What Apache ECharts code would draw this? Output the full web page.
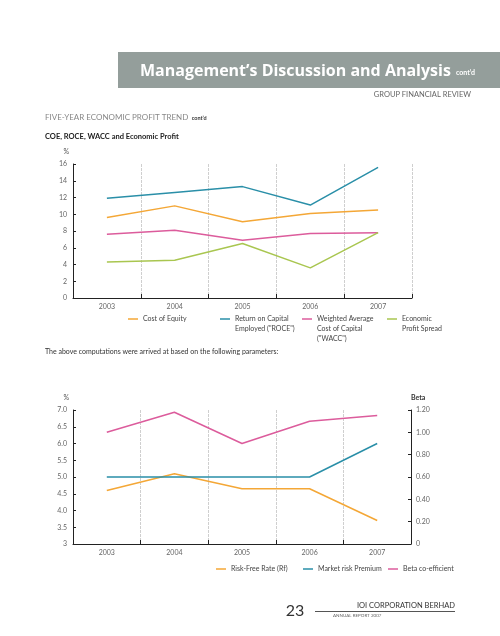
<!DOCTYPE html>
<html><head><meta charset="utf-8">
<script src="https://cdn.jsdelivr.net/npm/echarts@6/dist/echarts.min.js"></script>
<style>html,body{margin:0;padding:0;background:#fff}#c{width:500px;height:636px}</style>
</head><body><div id="c"></div>
<script>
// ---- data ----
const years = ['2003','2004','2005','2006','2007'];
const coe  = [9.6, 11.0, 9.1, 10.1, 10.5];
const roce = [11.9, 12.6, 13.3, 11.1, 15.6];
const wacc = [7.6, 8.1, 6.9, 7.7, 7.8];
const eps  = [4.3, 4.5, 6.5, 3.6, 7.8];
const riskFree = [4.6, 5.1, 4.65, 4.65, 3.7];
const marketRisk = [5.0, 5.0, 5.0, 5.0, 6.0];
const beta = [1.00, 1.18, 0.90, 1.10, 1.15];
const legend1 = ['Cost of Equity', 'Return on Capital\nEmployed ("ROCE")', 'Weighted Average\nCost of Capital\n("WACC")', 'Economic\nProfit Spread'];
const legend2 = ['Risk-Free Rate (Rf)', 'Market risk Premium', 'Beta co-efficient'];

// ---- style ----
const C_OR = '#f4a736', C_BL = '#2a8fa8', C_PK = '#dc5c9c', C_GR = '#a9c650';
const FONT = 'Lato, "Noto Sans", sans-serif';
const axisCol = '#222';
const lab = {fontSize: 7, color: '#666', fontFamily: FONT};

const chart = echarts.init(document.getElementById('c'), null, {renderer: 'canvas'});

function xAx(gi) {
  return {
    type: 'category', gridIndex: gi, data: years, boundaryGap: true,
    axisLine: {lineStyle: {color: axisCol, width: 1}},
    axisTick: {show: true, inside: true, length: 4, lineStyle: {color: axisCol}},
    axisLabel: Object.assign({margin: 5}, lab),
    splitLine: {show: true, lineStyle: {color: '#cfcfcf', width: 1, type: [3, 1]}}
  };
}
function yAx(gi, o) {
  return Object.assign({
    type: 'value', gridIndex: gi,
    axisLine: {show: true, lineStyle: {color: axisCol, width: 1}},
    axisTick: {show: true, inside: true, length: 3, lineStyle: {color: axisCol}},
    splitLine: {show: false},
    nameTextStyle: {fontSize: 7, color: '#555', fontFamily: FONT, align: 'right', padding: [0, 4, 0, 0]},
    nameGap: 9
  }, o);
}

function legendGraphic(labels, colors, xs, y) {
  const out = [];
  labels.forEach((t, i) => {
    out.push({type: 'line', shape: {x1: xs[i], y1: y, x2: xs[i] + 10, y2: y}, style: {stroke: colors[i], lineWidth: 1.5}});
    out.push({type: 'text', x: xs[i] + 15, y: y - 5, style: {text: t, fill: '#444', font: '7px ' + FONT, lineHeight: 10, verticalAlign: 'top'}});
  });
  return out;
}

const line = (name, data, color, xi, yi) => ({
  name, type: 'line', data, xAxisIndex: xi, yAxisIndex: yi, showSymbol: false, symbol: 'none',
  lineStyle: {color, width: 1.5}, itemStyle: {color}, animation: false
});

chart.setOption({
  animation: false,
  grid: [
    {left: 73, right: 88, top: 164, height: 134},
    {left: 73, right: 89, top: 410, height: 134}
  ],
  xAxis: [xAx(0), xAx(1)],
  yAxis: [
    yAx(0, {min: 0, max: 16, interval: 2, name: '%', axisLabel: Object.assign({margin: 6}, lab)}),
    yAx(1, {min: 3, max: 7, interval: 0.5, name: '%', axisLabel: Object.assign({margin: 6, formatter: v => v === 3 ? '3' : v.toFixed(1)}, lab)}),
    yAx(1, {min: 0, max: 1.2, interval: 0.2, position: 'right', name: 'Beta',
      nameTextStyle: {fontSize: 7, color: '#333', fontWeight: 'bold', fontFamily: FONT, align: 'left', padding: [0, 0, 0, 0]},
      axisLabel: Object.assign({margin: 5, formatter: v => v === 0 ? '0' : v.toFixed(2)}, lab)})
  ],
  series: [
    line(legend1[0], coe, C_OR, 0, 0),
    line(legend1[1], roce, C_BL, 0, 0),
    line(legend1[2], wacc, C_PK, 0, 0),
    line(legend1[3], eps, C_GR, 0, 0),
    line(legend2[0], riskFree, C_OR, 1, 1),
    line(legend2[1], marketRisk, C_BL, 1, 1),
    line(legend2[2], beta, C_PK, 1, 2)
  ],
  graphic: [
    {type: 'rect', shape: {x: 118, y: 52, width: 382, height: 36}, style: {fill: '#949e9b'}},
    {type: 'text', x: 140, y: 71, style: {text: 'Management\u2019s Discussion and Analysis', fill: '#fff', font: 'bold 16px "Open Sans", sans-serif', verticalAlign: 'middle'}},
    {type: 'text', x: 456, y: 73, style: {text: 'cont\u2019d', fill: '#fff', font: 'bold 7px ' + FONT, verticalAlign: 'middle'}},
    {type: 'text', x: 471, y: 95, style: {text: 'GROUP FINANCIAL REVIEW', fill: '#666', font: '7.5px ' + FONT, align: 'right', verticalAlign: 'middle'}},
    {type: 'text', x: 45, y: 115, style: {
      text: '{a|FIVE-YEAR ECONOMIC PROFIT TREND} {b|cont\u2019d}', verticalAlign: 'middle',
      rich: {
        a: {fill: '#888', fontSize: 8, fontFamily: FONT, verticalAlign: 'bottom'},
        b: {fill: '#333', fontSize: 5.5, fontWeight: 'bold', fontFamily: FONT, verticalAlign: 'bottom'}
      }}},
    {type: 'text', x: 45, y: 137, style: {text: 'COE, ROCE, WACC and Economic Profit', fill: '#222', font: 'bold 7.5px ' + FONT, verticalAlign: 'middle'}},
    {type: 'text', x: 45, y: 352, style: {text: 'The above computations were arrived at based on the following parameters:', fill: '#333', font: '7px ' + FONT, verticalAlign: 'middle'}},
    ...legendGraphic(legend1, [C_OR, C_BL, C_PK, C_GR], [128, 220, 302, 387], 319),
    ...legendGraphic(legend2, [C_OR, C_BL, C_PK], [216, 303, 388], 569),
    {type: 'text', x: 295, y: 611, style: {text: '23', fill: '#333', font: '16px ' + FONT, align: 'center', verticalAlign: 'middle'}},
    {type: 'line', shape: {x1: 315, y1: 611.5, x2: 455, y2: 611.5}, style: {stroke: '#555', lineWidth: 1}},
    {type: 'text', x: 455, y: 606, style: {text: 'IOI CORPORATION BERHAD', fill: '#333', font: '7.5px ' + FONT, align: 'right', verticalAlign: 'middle'}},
    {type: 'text', x: 333, y: 616, style: {text: 'ANNUAL REPORT 2007', fill: '#666', font: '4.5px ' + FONT, verticalAlign: 'middle'}}
  ]
});
</script></body></html>
